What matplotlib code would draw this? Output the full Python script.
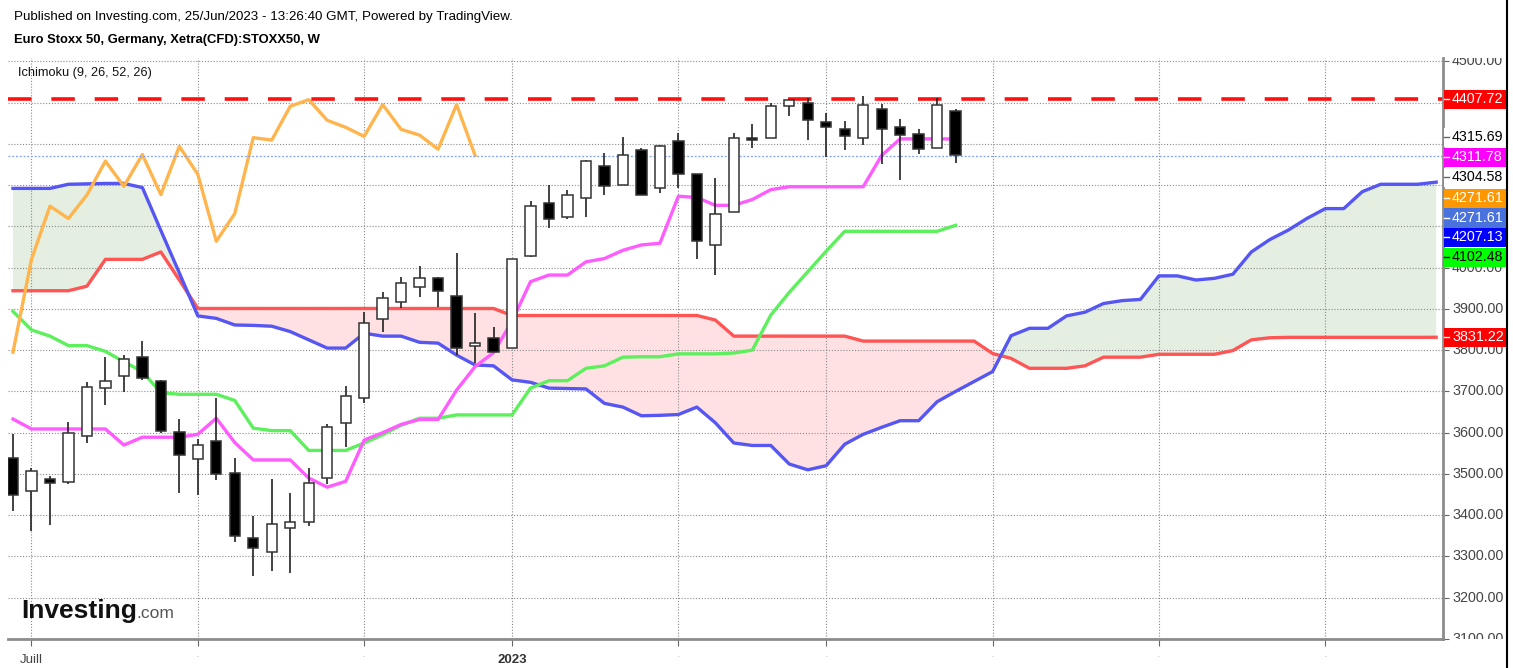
import numpy as np
import matplotlib
matplotlib.use("Agg")
import matplotlib.pyplot as plt
from matplotlib.lines import Line2D
from matplotlib.patches import Rectangle

plt.rcParams['font.family'] = ['Liberation Sans', 'DejaVu Sans']

# weekly candles, 27/Jun/2022 .. 19/Jun/2023
opens = [3538, 3459, 3487, 3480, 3592, 3708, 3737, 3783, 3726, 3601,
         3536, 3580, 3502, 3345, 3311, 3369, 3383, 3490, 3623, 3683,
         3875, 3916, 3952, 3974, 3931, 3810, 3829, 3805, 4028, 4156,
         4123, 4168, 4247, 4200, 4284, 4192, 4306, 4228, 4056, 4134,
         4313, 4313, 4391, 4399, 4353, 4335, 4315, 4385, 4340, 4325,
         4291, 4380]
highs = [3596, 3514, 3494, 3627, 3724, 3784, 3788, 3821, 3728, 3633,
         3584, 3683, 3538, 3399, 3487, 3454, 3514, 3620, 3714, 3893,
         3942, 3978, 4004, 3978, 4035, 3889, 3857, 4020, 4162, 4200,
         4189, 4260, 4277, 4317, 4289, 4298, 4326, 4228, 4216, 4326,
         4347, 4399, 4407, 4412, 4375, 4356, 4415, 4396, 4359, 4335,
         4412, 4385]
lows = [3409, 3362, 3377, 3476, 3576, 3667, 3698, 3728, 3599, 3454,
        3449, 3486, 3335, 3252, 3264, 3261, 3373, 3476, 3566, 3671,
        3845, 3901, 3928, 3905, 3788, 3768, 3795, 3805, 4026, 4095,
        4119, 4123, 4176, 4200, 4176, 4181, 4194, 4022, 3982, 4134,
        4289, 4313, 4367, 4309, 4267, 4285, 4297, 4252, 4212, 4275,
        4291, 4254]
closes = [3450, 3507, 3478, 3599, 3710, 3726, 3778, 3732, 3604, 3546,
          3570, 3500, 3350, 3320, 3378, 3383, 3478, 3613, 3689, 3867,
          3926, 3962, 3976, 3943, 3805, 3817, 3795, 4020, 4149, 4119,
          4176, 4258, 4197, 4274, 4177, 4294, 4226, 4064, 4131, 4315,
          4309, 4391, 4407, 4357, 4340, 4318, 4395, 4335, 4321, 4287,
          4395, 4272]

# Ichimoku lines
tenkan = [3633, 3609, 3609, 3609, 3609, 3609, 3570, 3589, 3589, 3589,
          3596, 3635, 3576, 3534, 3534, 3534, 3490, 3468, 3482, 3582,
          3600, 3620, 3632, 3632, 3703, 3760, 3794, 3870, 3966, 3982,
          3982, 4014, 4022, 4042, 4055, 4059, 4173, 4170, 4151, 4151,
          4165, 4189, 4196, 4196, 4196, 4196, 4196, 4272, 4312, 4312,
          4312, 4311.78]
kijun = [3894, 3849, 3834, 3811, 3811, 3797, 3772, 3748, 3697, 3693,
         3693, 3693, 3678, 3611, 3605, 3605, 3557, 3557, 3557, 3575,
         3595, 3618, 3635, 3635, 3643, 3643, 3643, 3643, 3708, 3726,
         3726, 3756, 3762, 3783, 3784, 3784, 3791, 3791, 3791, 3793,
         3800, 3885, 3940, 3990, 4040, 4088, 4088, 4088, 4088, 4088,
         4088, 4102.48]
span_blue = [4192, 4192, 4192, 4202, 4203, 4204, 4204, 4194, 4090, 3987,
             3883, 3877, 3861, 3860, 3858, 3845, 3825, 3805, 3805, 3841,
             3834, 3834, 3819, 3817, 3788, 3764, 3762, 3728, 3722, 3708,
             3707, 3706, 3671, 3662, 3641, 3642, 3644, 3662, 3624, 3575,
             3569, 3569, 3524, 3510, 3520, 3572, 3596, 3613, 3629, 3629,
             3675, 3700, 3724, 3748, 3835, 3853, 3853, 3883, 3892, 3913,
             3920, 3923, 3980, 3980, 3970, 3974, 3984, 4038, 4068, 4091,
             4119, 4143, 4143, 4184, 4202, 4202, 4202, 4207.13]
span_red = [3944, 3944, 3944, 3944, 3955, 4020, 4020, 4020, 4038, 3970,
            3901, 3901, 3901, 3901, 3901, 3901, 3901, 3901, 3901, 3901,
            3901, 3901, 3901, 3901, 3901, 3901, 3901, 3884, 3884, 3884,
            3884, 3884, 3884, 3884, 3884, 3884, 3884, 3884, 3873, 3834,
            3834, 3834, 3834, 3834, 3834, 3834, 3822, 3822, 3822, 3822,
            3822, 3822, 3822, 3792, 3780, 3756, 3756, 3756, 3762, 3783,
            3783, 3783, 3790, 3790, 3790, 3790, 3799, 3825, 3830, 3831,
            3831, 3831, 3831, 3831, 3831, 3831, 3831, 3831.22]
lag = 26

resistance = 4407.72
last_close = 4271.61

# right-hand price labels: text, background, text colour
tag_text = ["4407.72", "4315.69", "4311.78", "4304.58", "4271.61",
            "4271.61", "4207.13", "4102.48", "3831.22"]
tag_bg = ["#ff0000", "white", "#ff00ff", "white", "#ff9800",
          "#4a72dc", "#0000ff", "#00ff00", "#ff0000"]
tag_fg = ["white", "black", "white", "black", "white",
          "white", "white", "black", "white"]
# stacked label positions (layout, in price units)
tag_pos = [4407.72, 4315.69, 4267, 4219, 4168, 4120, 4073, 4025, 3831.22]

# axis prices whose labels stay visible (others are hidden by the tags)
axis_prices = [3100, 3200, 3300, 3400, 3500, 3600, 3700, 3800, 3900, 4000, 4500]

month_idx = [1, 10, 19, 27, 36, 44, 53, 62, 71]
month_lbl = ["Juill", "-", "-", "2023", "-", "-", "-", "-", "-"]


def main():
    W, H = 1513, 668
    fig = plt.figure(figsize=(W / 100, H / 100), dpi=100)
    x0, x1, ytop, ybot = 8, 1443, 58, 639
    ax = fig.add_axes([x0 / W, 1 - ybot / H, (x1 - x0) / W, (ybot - ytop) / H])

    n = len(closes)
    xs = np.arange(n)
    xf = np.arange(len(span_blue))
    ax.set_xlim(-0.27, 77.37)
    ax.set_ylim(3102, 4508)

    # grid
    ax.set_yticks(np.arange(3100, 4501, 100))
    ax.set_xticks(month_idx)
    ax.grid(True, color="#8a8a8a", lw=0.8, linestyle=(0, (1, 1.6)), zorder=0)

    # cloud
    b = np.array(span_blue, float)
    r = np.array(span_red, float)
    ax.fill_between(xf, b, r, where=b >= r, interpolate=True,
                    color="#e4efe2", lw=0, zorder=1)
    ax.fill_between(xf, b, r, where=b < r, interpolate=True,
                    color="#ffe1e3", lw=0, zorder=1)

    lw = 2.4
    ax.plot(xf, span_red, color="#ff5555", lw=lw, zorder=2)
    ax.plot(xf, span_blue, color="#5656f2", lw=lw, zorder=2)
    ax.plot(xs, kijun, color="#5cf05c", lw=lw, zorder=2)
    ax.plot(xs, tenkan, color="#ff5cff", lw=lw, zorder=2)
    ax.plot(xs[:n - lag], closes[lag:], color="#ffb54d", lw=lw, zorder=2)

    ax.axhline(resistance, color="#ff1010", lw=2.6, dashes=(6.5, 5.5),
               zorder=2.5)
    ax.axhline(last_close, color="#7f9ff5", lw=0.9,
               linestyle=(0, (1.5, 1.5)), zorder=2.5)

    # candles
    for i in range(n):
        o, h, l, c = opens[i], highs[i], lows[i], closes[i]
        ax.vlines(i, l, h, color="#222222", lw=1.2, zorder=3)
        body = max(abs(c - o), 4)
        fc = "white" if c >= o else "black"
        ax.bar(i, body, bottom=min(o, c), width=0.56, color=fc,
               edgecolor="#333333", lw=1.1, zorder=4)

    # spines and ticks
    for s in ("top", "left"):
        ax.spines[s].set_visible(False)
    for s in ("right", "bottom"):
        ax.spines[s].set_color("#8c8c8c")
        ax.spines[s].set_linewidth(2)
    ax.yaxis.tick_right()
    ax.tick_params(axis="y", length=4, color="#666666", labelright=False)
    ax.tick_params(axis="x", length=5, color="#666666", pad=6)
    ax.set_xticklabels(month_lbl)
    for t, lab in zip(ax.get_xticklabels(), month_lbl):
        if lab == "2023":
            t.set_fontweight("bold")
            t.set_fontsize(9.5)
            t.set_color("#333333")
        elif lab == "-":
            t.set_fontsize(4)
            t.set_color("#999999")
        else:
            t.set_fontsize(9.5)
            t.set_color("#444444")

    ax.text(0.0069, 1 - 15 / (ybot - ytop), "Ichimoku (9, 26, 52, 26)",
            transform=ax.transAxes, fontsize=9.2, va="center", color="#111111")

    # price label strip
    lax = fig.add_axes([x1 / W, 1 - ybot / H, (W - x1) / W, (ybot - ytop) / H])
    lax.set_ylim(ax.get_ylim())
    lax.set_xlim(0, 1)
    lax.axis("off")
    for v in axis_prices:
        lax.text(0.13, v, "%.2f" % v, fontsize=10.3, color="#444444",
                 va="center", ha="left", clip_on=True, zorder=1)
    box_h = 47
    for txt, bg, fg, pos in zip(tag_text, tag_bg, tag_fg, tag_pos):
        lax.add_patch(Rectangle((0.02, pos - box_h / 2), 0.88, box_h,
                                color=bg, lw=0, zorder=2))
        lax.plot([0.02, 0.08], [pos, pos],
                 color="#666666" if bg == "white" else fg, lw=1, zorder=3)
        lax.text(0.13, pos, txt, fontsize=10.3, color=fg, va="center",
                 ha="left", zorder=3)

    # headers
    fig.text(14 / W, 1 - 17 / H,
             "Published on Investing.com, 25/Jun/2023 - 13:26:40 GMT, "
             "Powered by TradingView.", fontsize=9.6, va="center")
    fig.text(14 / W, 1 - 40 / H, "Euro Stoxx 50, Germany, Xetra(CFD):STOXX50, W",
             fontsize=9.4, fontweight="bold", va="center")

    # logo
    fig.text(21 / W, 1 - 611 / H, "Investing", fontsize=19, fontweight="bold",
             va="center", color="#111111")
    fig.text(136 / W, 1 - 614 / H, ".com", fontsize=12.5, va="center",
             color="#555555")

    fig.add_artist(Line2D([1507 / W, 1507 / W], [0, 1], color="black", lw=1.5))

    fig.savefig("out.png", dpi=100)


if __name__ == "__main__":
    main()
